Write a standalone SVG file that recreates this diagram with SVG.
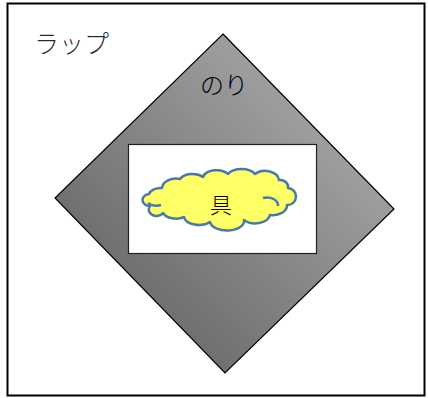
<svg xmlns="http://www.w3.org/2000/svg" width="428" height="398" viewBox="0 0 428 398">
<style>
.jp{font-family:"Noto Sans CJK JP","Noto Sans",sans-serif;fill:#000}
</style>
<defs>
<linearGradient id="g" x1="0.8" y1="0.2" x2="0.2" y2="0.8">
<stop offset="0" stop-color="#a3a3a3"/>
<stop offset="1" stop-color="#6b6b6b"/>
</linearGradient>
</defs>
<rect x="0" y="0" width="428" height="398" fill="#fff"/>
<g id="wrap">
<rect x="7.5" y="3.5" width="417" height="392" fill="#fff" stroke="#000" stroke-width="2"/>
<text class="jp" x="34" y="53" font-size="25" font-weight="300" fill-opacity="0.85">ラップ</text>
</g>
<g id="nori">
<polygon points="223,34 394,209 225,373 55,198" fill="url(#g)" stroke="#000" stroke-width="1.2"/>
<text class="jp" x="200" y="94" font-size="24" font-weight="300" fill="#222">のり</text>
</g>
<g id="rice">
<rect x="128.5" y="144.5" width="188" height="109" fill="#fff" stroke="#222" stroke-width="1.2"/>
</g>
<g id="gu">
<path d="M150,206 A7,6 0 0 1 149,194 A12,8 0 0 1 162,188 A14,10 0 0 1 180,179 A14,9 0 0 1 203,177 A14,9 0 0 1 228,174 A15,9 0 0 1 255,174 A14,10 0 0 1 279,180 A8,7 0 0 1 288,188 A7,7 0 0 1 287,205 A14,10 0 0 1 270,215 A15,10 0 0 1 244,220 A16,9 0 0 1 210,222 A15,9 0 0 1 184,217 A14,9 0 0 1 163,213 A6,5 0 0 1 150,206 Z" fill="#ffff66" stroke="#4a78a8" stroke-width="2.5" stroke-linejoin="round"/>
<path d="M263,198 A11,8 0 0 1 278,206" fill="none" stroke="#4a78a8" stroke-width="2.5"/>
<path d="M148,203 A10,6 0 0 0 161,205" fill="none" stroke="#4a78a8" stroke-width="2.5"/>
<text class="jp" x="221" y="213" font-size="22" text-anchor="middle" font-weight="300">具</text>
</g>
</svg>
